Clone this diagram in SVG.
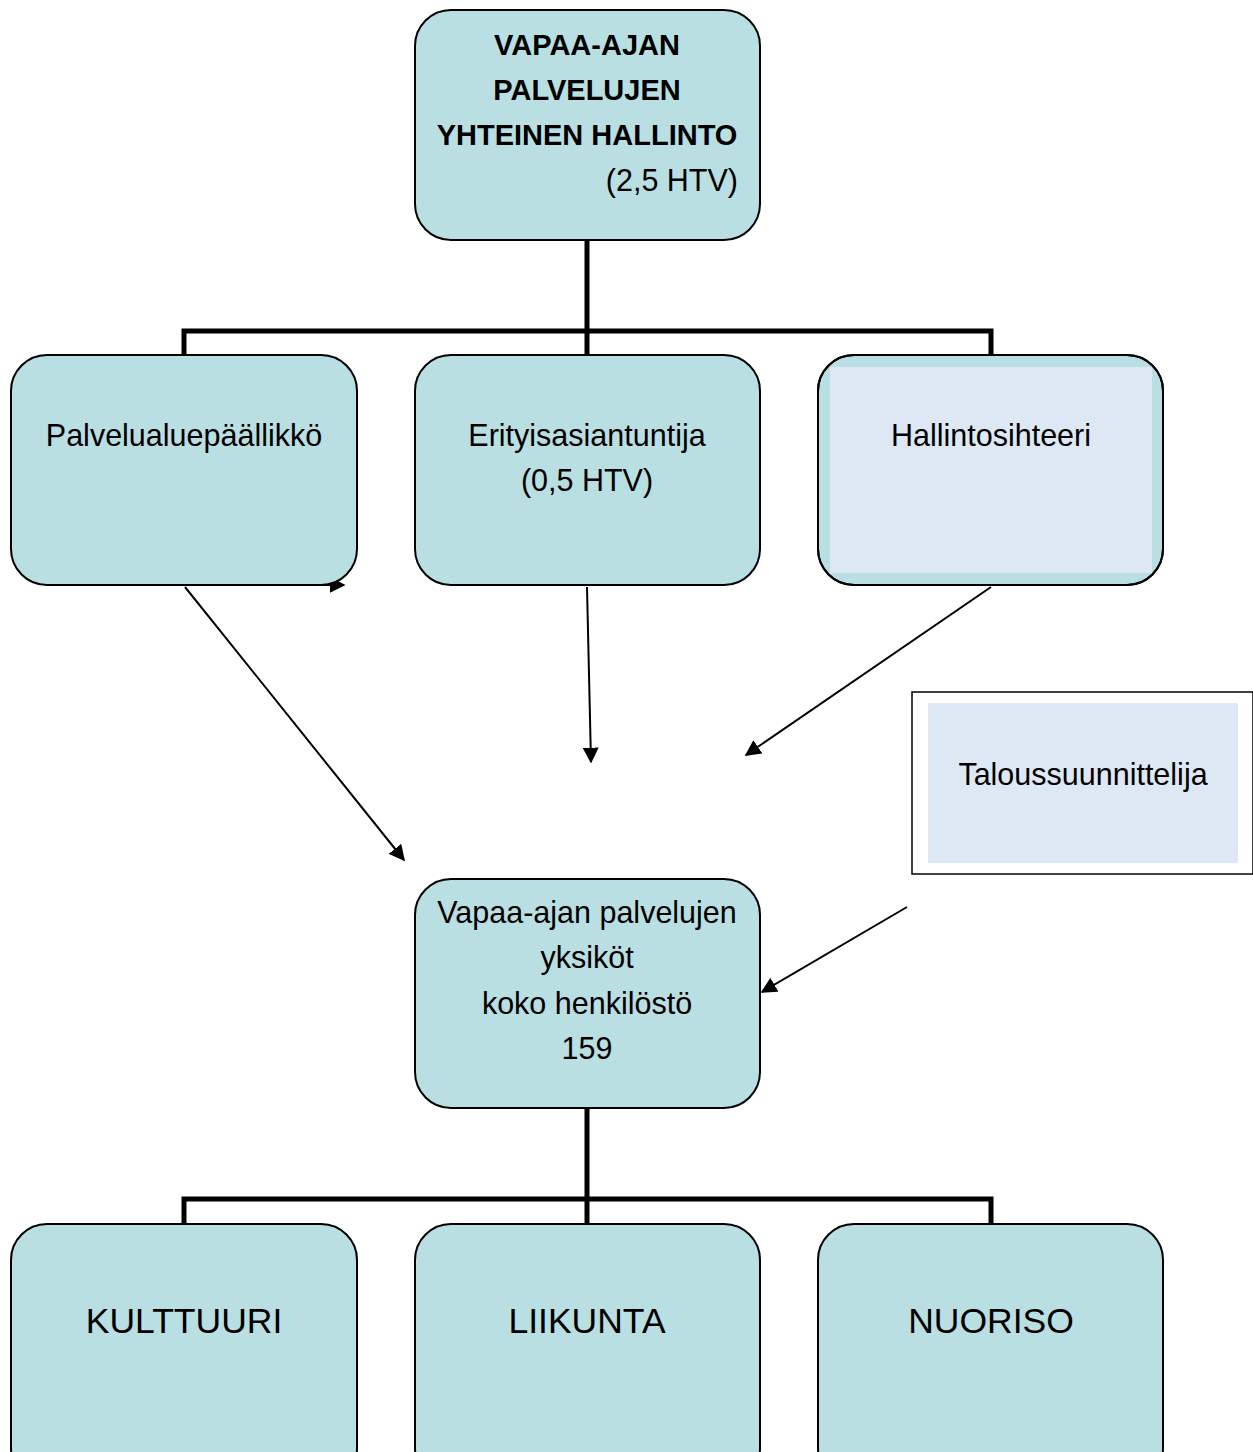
<svg xmlns="http://www.w3.org/2000/svg" width="1253" height="1452" viewBox="0 0 1253 1452">
<style>
.box{fill:#b9dfe3;stroke:#000;stroke-width:2}
.inner{fill:#dde8f4}
.t{font-family:"Liberation Sans",Arial,sans-serif;font-size:30.5px;fill:#000;text-anchor:middle}
.b{font-weight:bold;font-size:29px}
.big{font-size:35.5px}
.tree{fill:none;stroke:#000;stroke-width:5}
</style>
<defs>
<marker id="ah2" viewBox="0 0 10 10" refX="9" refY="5" markerWidth="16" markerHeight="16" markerUnits="userSpaceOnUse" orient="auto">
<path d="M0,0 L10,5 L0,10 z" fill="#000"/>
</marker>
</defs>
<rect width="1253" height="1452" fill="#fff"/>
<g id="connectors">
<path class="tree" d="M587,240 V331 M184,355 V331 H991 V355 M587,331 V355"/>
<path class="tree" d="M587,1108 V1199 M184,1224 V1199 H991 V1224 M587,1199 V1224"/>
<line x1="185" y1="585" x2="344" y2="585" stroke="#000" stroke-width="2" marker-end="url(#ah2)"/>
<line x1="185" y1="587" x2="404" y2="860" stroke="#000" stroke-width="2" marker-end="url(#ah2)"/>
<line x1="587" y1="587" x2="591" y2="762" stroke="#000" stroke-width="2" marker-end="url(#ah2)"/>
<line x1="991" y1="587" x2="746" y2="755" stroke="#000" stroke-width="2" marker-end="url(#ah2)"/>
<line x1="907" y1="907" x2="762" y2="992" stroke="#000" stroke-width="2" marker-end="url(#ah2)"/>
</g>
<g id="hallinto">
<rect class="box" x="415" y="10" width="345" height="230" rx="36"/>
<text class="t b" x="587" y="55">VAPAA-AJAN</text>
<text class="t b" x="587" y="100">PALVELUJEN</text>
<text class="t b" x="587" y="145">YHTEINEN HALLINTO</text>
<text class="t" x="738" y="191" style="text-anchor:end">(2,5 HTV)</text>
</g>
<g id="palvelualuepaallikko">
<rect class="box" x="11" y="355" width="346" height="230" rx="36"/>
<text class="t" x="184" y="446">Palvelualuepäällikkö</text>
</g>
<g id="erityisasiantuntija">
<rect class="box" x="415" y="355" width="345" height="230" rx="36"/>
<text class="t" x="587" y="446">Erityisasiantuntija</text>
<text class="t" x="587" y="491">(0,5 HTV)</text>
</g>
<g id="hallintosihteeri">
<rect class="box" x="818" y="355" width="345" height="230" rx="36"/>
<rect class="inner" x="830" y="367" width="322" height="206"/>
<path d="M854,355 H1127 A36,36 0 0 1 1163,391 V549 A36,36 0 0 1 1127,585 H854 A36,36 0 0 1 818,549 V391 A36,36 0 0 1 854,355 z" fill="none" stroke="#000" stroke-width="2"/>
<text class="t" x="991" y="446">Hallintosihteeri</text>
</g>
<g id="taloussuunnittelija">
<rect x="912" y="692" width="341" height="182" fill="#fff" stroke="#000" stroke-width="1.5"/>
<rect class="inner" x="928" y="703" width="310" height="160"/>
<text class="t" x="1083" y="785">Taloussuunnittelija</text>
</g>
<g id="yksikot">
<rect class="box" x="415" y="879" width="345" height="229" rx="36"/>
<text class="t" x="587" y="923">Vapaa-ajan palvelujen</text>
<text class="t" x="587" y="968">yksiköt</text>
<text class="t" x="587" y="1014">koko henkilöstö</text>
<text class="t" x="587" y="1059">159</text>
</g>
<g id="kulttuuri">
<rect class="box" x="11" y="1224" width="346" height="260" rx="36"/>
<text class="t big" x="184" y="1333">KULTTUURI</text>
</g>
<g id="liikunta">
<rect class="box" x="415" y="1224" width="345" height="260" rx="36"/>
<text class="t big" x="587" y="1333">LIIKUNTA</text>
</g>
<g id="nuoriso">
<rect class="box" x="818" y="1224" width="345" height="260" rx="36"/>
<text class="t big" x="991" y="1333">NUORISO</text>
</g>
</svg>
